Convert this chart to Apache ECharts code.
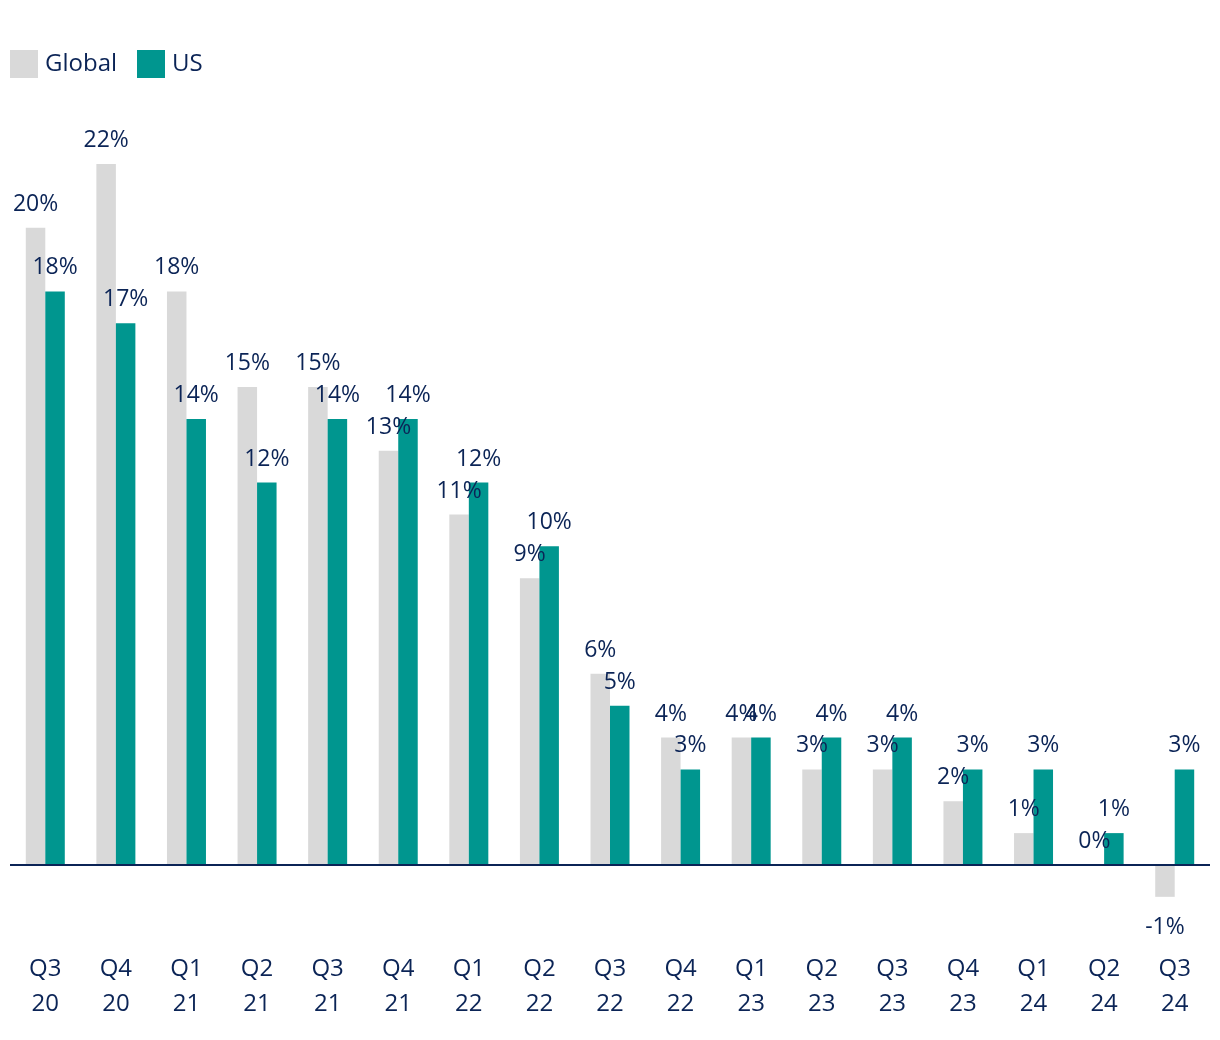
<!DOCTYPE html>
<html>
<head>
<meta charset="utf-8">
<script src="https://cdn.jsdelivr.net/npm/echarts@6/dist/echarts.min.js"></script>
<style>
html,body{margin:0;padding:0;background:#fff;}
#chart{width:1220px;height:1040px;}
</style>
</head>
<body>
<div id="chart"></div>
<script>
const categories = ['Q3\n20','Q4\n20','Q1\n21','Q2\n21','Q3\n21','Q4\n21','Q1\n22','Q2\n22','Q3\n22','Q4\n22','Q1\n23','Q2\n23','Q3\n23','Q4\n23','Q1\n24','Q2\n24','Q3\n24'];
const globalValues = [20,22,18,15,15,13,11,9,6,4,4,3,3,2,1,0,-1];
const usValues = [18,17,14,12,14,14,12,10,5,3,4,4,4,3,3,1,3];
const seriesNames = ['Global','US'];

const NAVY = '#0b2456';
const FONT = '"Open Sans", "Noto Sans", sans-serif';

const chart = echarts.init(document.getElementById('chart'), null, {renderer:'canvas'});
const labelCfg = {
  show: true,
  position: 'outside',
  distance: 12,
  formatter: '{c}%',
  color: NAVY,
  fontSize: 23,
  fontFamily: FONT
};
function withLabels(values) {
  return values.map(v => {
    if (v < 0) return {value: v, label: {position: 'outside', distance: 19}};
    if (v === 0) return {value: v, label: {position: 'top'}};
    return v;
  });
}
chart.setOption({
  animation: false,
  textStyle: {fontFamily: FONT},
  legend: {
    left: 10, top: 50, padding: 0,
    itemWidth: 28, itemHeight: 28, itemGap: 20,
    icon: 'rect',
    textStyle: {fontSize: 24, color: NAVY, fontFamily: FONT, padding: [0,0,0,2]},
    data: seriesNames
  },
  grid: {left: 10, right: 10, top: 164, bottom: 111.3, containLabel: false},
  xAxis: {
    type: 'category',
    data: categories,
    axisLine: {show: false, onZero: false},
    axisTick: {show: false},
    axisLabel: {fontSize: 24, lineHeight: 35, color: NAVY, margin: 23, fontFamily: FONT, interval: 0}
  },
  yAxis: {
    type: 'value', min: -2, max: 22, interval: 2, show: false,
    splitLine: {show: false}
  },
  series: [
    {
      name: seriesNames[0], type: 'bar', data: withLabels(globalValues),
      barWidth: 19.5, barGap: '0%',
      itemStyle: {color: '#d9d9d9'},
      label: labelCfg,
      markLine: {
        silent: true, symbol: ['none','none'],
        label: {show: false},
        lineStyle: {color: NAVY, width: 2, type: 'solid'},
        data: [{yAxis: 0}]
      }
    },
    {
      name: seriesNames[1], type: 'bar', data: withLabels(usValues),
      barWidth: 19.5, barGap: '0%',
      itemStyle: {color: '#00968f'},
      label: labelCfg
    }
  ]
});
</script>
</body>
</html>
